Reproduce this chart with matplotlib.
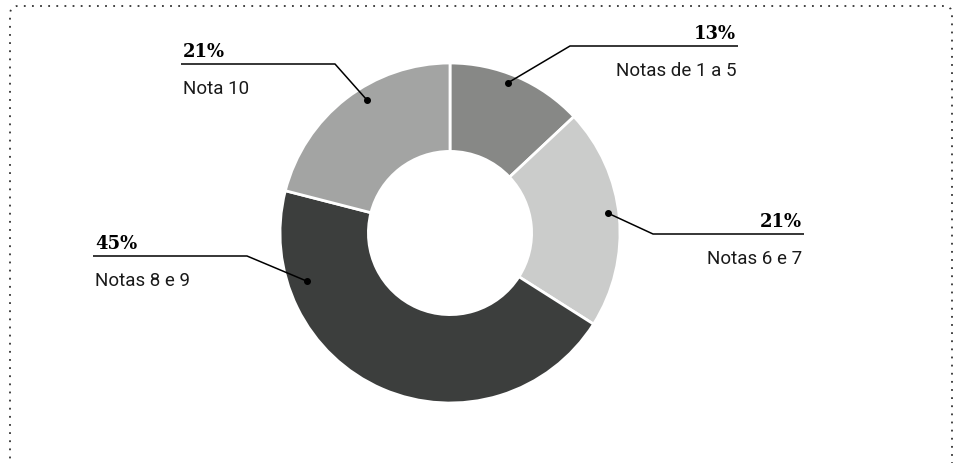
import numpy as np
import matplotlib
matplotlib.use("Agg")
import matplotlib.pyplot as plt
from matplotlib.patches import FancyBboxPatch

# data
labels = ["Notas de 1 a 5", "Notas 6 e 7", "Notas 8 e 9", "Nota 10"]
shares = [13, 21, 45, 21]
pct_text = ["13%", "21%", "45%", "21%"]
colors = ["#878886", "#cbcccb", "#3c3e3d", "#a3a4a3"]

W, H = 960, 463
fig = plt.figure(figsize=(W / 100, H / 100), dpi=100)
ax = fig.add_axes([0, 0, 1, 1])

cx, cy, R = 450, H - 233, 170
ax.pie(shares, colors=colors, startangle=90, counterclock=False,
       center=(cx, cy), radius=R, frame=True,
       wedgeprops=dict(width=R * 0.52, edgecolor="white", linewidth=2))

ax.set_xlim(0, W)
ax.set_ylim(0, H)
ax.set_aspect("auto")
ax.axis("off")

# leader layout: dot (angle deg, radius), elbow x, elbow y, line end x, side
leaders = [
    (68.9, 161, 570, 46, 738, "right"),
    (7.2, 159, 653, 234, 804, "right"),
    (198.6, 151, 247, 256, 93, "left"),
    (122.0, 157, 335, 64, 181, "left"),
]

for (ang, rr, ex, ey, lx, side), lab, pt in zip(leaders, labels, pct_text):
    a = np.deg2rad(ang)
    dx, dy = cx + rr * np.cos(a), cy + rr * np.sin(a)
    ey = H - ey
    ax.plot([dx, ex, lx], [dy, ey, ey], color="black", lw=1.1,
            solid_capstyle="butt")
    ax.plot(dx, dy, "o", color="black", ms=4)
    if side == "right":
        tx, ha = lx - 2, "right"
    else:
        tx, ha = lx + 2, "left"
    ax.text(tx, ey + 7, pt, ha=ha, va="baseline", fontsize=13,
            fontweight="bold", family="DejaVu Serif")
    ax.text(tx, ey - 16, lab, ha=ha, va="top", fontsize=13.5,
            family="Roboto", color="#1a1a1a")

# dotted frame, open at the bottom
frame = FancyBboxPatch((10, -40), 942, H - 6 + 40,
                       boxstyle="round,pad=0,rounding_size=8",
                       fill=False, edgecolor="#333333", lw=1.3,
                       linestyle=(0, (1, 3.5)))
ax.add_patch(frame)

fig.savefig("out.png", dpi=100)
